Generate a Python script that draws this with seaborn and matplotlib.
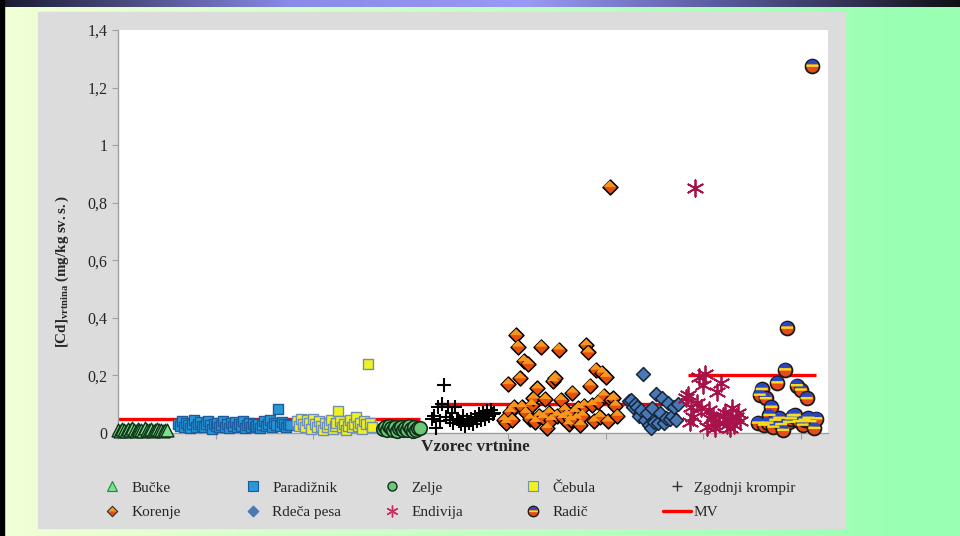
import numpy as np
import pandas as pd
import seaborn as sns
import matplotlib
matplotlib.use("Agg")
import matplotlib.pyplot as plt
from matplotlib.path import Path
from matplotlib.lines import Line2D
from matplotlib.patches import Rectangle
from matplotlib.legend_handler import HandlerTuple
from matplotlib.ticker import FuncFormatter, MultipleLocator

# Cd content per vegetable sample (mg/kg dry matter)
bucke = [0.012, 0.008, 0.015, 0.01, 0.006, 0.013, 0.009, 0.018, 0.011, 0.007, 0.014, 0.01, 0.012,
         0.008, 0.016, 0.009, 0.011, 0.013, 0.007, 0.01, 0.015, 0.009, 0.012, 0.008, 0.011, 0.01]
paradiznik = [0.03, 0.025, 0.04, 0.02, 0.035, 0.028, 0.018, 0.032, 0.045, 0.022, 0.03, 0.038, 0.025,
              0.02, 0.033, 0.042, 0.028, 0.015, 0.03, 0.024, 0.036, 0.02, 0.028, 0.04, 0.022, 0.03,
              0.018, 0.034, 0.026, 0.038, 0.02, 0.03, 0.025, 0.042, 0.018, 0.028, 0.035, 0.022, 0.03,
              0.02, 0.026, 0.033, 0.017, 0.028, 0.04, 0.024, 0.03, 0.046, 0.02, 0.035, 0.028, 0.083,
              0.025, 0.038, 0.03, 0.022, 0.033, 0.028]
cebula = [0.04, 0.025, 0.05, 0.03, 0.02, 0.045, 0.035, 0.015, 0.05, 0.03, 0.02, 0.04, 0.025, 0.012,
          0.035, 0.02, 0.03, 0.045, 0.015, 0.025, 0.035, 0.076, 0.04, 0.02, 0.03, 0.01, 0.025, 0.045,
          0.02, 0.03, 0.055, 0.025, 0.035, 0.015, 0.04, 0.03, 0.24, 0.035, 0.02]
zelje = [0.015, 0.02, 0.01, 0.025, 0.018, 0.012, 0.022, 0.008, 0.016, 0.02, 0.012, 0.018, 0.01,
         0.024, 0.015, 0.008, 0.02, 0.012, 0.016, 0.018]
krompir = [0.05, 0.06, 0.017, 0.09, 0.04, 0.1, 0.167, 0.055, 0.09, 0.045, 0.07, 0.035, 0.09, 0.05,
           0.04, 0.03, 0.06, 0.025, 0.045, 0.035, 0.05, 0.03, 0.055, 0.04, 0.065, 0.045, 0.07, 0.05,
           0.075, 0.06, 0.08, 0.065, 0.07]
korenje = [0.045, 0.035, 0.17, 0.073, 0.045, 0.09, 0.34, 0.30, 0.19, 0.09, 0.25, 0.07, 0.24, 0.05,
           0.097, 0.12, 0.038, 0.155, 0.06, 0.30, 0.052, 0.118, 0.017, 0.07, 0.045, 0.18, 0.19, 0.06,
           0.29, 0.115, 0.052, 0.08, 0.062, 0.03, 0.045, 0.14, 0.073, 0.05, 0.087, 0.028, 0.06, 0.095,
           0.305, 0.28, 0.165, 0.097, 0.04, 0.22, 0.108, 0.056, 0.21, 0.13, 0.195, 0.04, 0.855, 0.115,
           0.12, 0.095, 0.06]
rdeca_pesa = [0.11, 0.115, 0.09, 0.1, 0.09, 0.06, 0.08, 0.205, 0.045, 0.07, 0.028, 0.017, 0.087,
              0.038, 0.135, 0.035, 0.07, 0.12, 0.035, 0.052, 0.104, 0.049, 0.06, 0.09, 0.045, 0.1]
endivija = [0.12, 0.132, 0.038, 0.09, 0.056, 0.85, 0.104, 0.195, 0.087, 0.167, 0.205, 0.021, 0.08,
            0.05, 0.056, 0.017, 0.142, 0.035, 0.173, 0.06, 0.07, 0.028, 0.045, 0.017, 0.087, 0.028,
            0.056, 0.07, 0.04]
radic = [0.035, 0.132, 0.152, 0.028, 0.12, 0.035, 0.062, 0.09, 0.021, 0.045, 0.175, 0.052, 0.03,
         0.01, 0.22, 0.365, 0.038, 0.05, 0.06, 0.062, 0.165, 0.04, 0.15, 0.028, 0.045, 0.12, 0.052,
         0.04, 1.275, 0.017, 0.05]

# number of the first sample of each vegetable
group_start = [0, 31, 92, 136, 161, 198, 262, 291, 328]

# limit values (MV) and the sample ranges they apply to
mv_level = [0.05, 0.1, 0.2]
mv_from = [0, 163, 292]
mv_to = [155, 280, 358]

labels = ["Bučke", "Paradižnik", "Čebula", "Zelje", "Zgodnji krompir",
          "Korenje", "Rdeča pesa", "Endivija", "Radič"]
values = [bucke, paradiznik, cebula, zelje, krompir, korenje, rdeca_pesa, endivija, radic]

frames = []
for name, start, vals in zip(labels, group_start, values):
    frames.append(pd.DataFrame({"sample": start + np.arange(len(vals)), "cd": vals, "vrtnina": name}))
df = pd.concat(frames, ignore_index=True)

sns.set_style("ticks")
plt.rcParams["font.family"] = ["Liberation Serif", "DejaVu Serif"]
plt.rcParams["mathtext.fontset"] = "custom"
plt.rcParams["mathtext.rm"] = "Liberation Serif"
plt.rcParams["mathtext.bf"] = "Liberation Serif:bold"
plt.rcParams["mathtext.it"] = "Liberation Serif:italic"


def circle_slice(lo, hi, n=24):
    a, b = np.arcsin(lo), np.arcsin(hi)
    ang = np.concatenate([np.linspace(a, b, n), np.linspace(np.pi - b, np.pi - a, n)])
    verts = np.column_stack([np.cos(ang), np.sin(ang)])
    return Path(np.vstack([verts, verts[:1]]), closed=True)


cap_top = circle_slice(0.25, 1.0)
band_mid = circle_slice(-0.15, 0.25)
diamond = Path([(0, 1), (1, 0), (0, -1), (-1, 0), (0, 1)], closed=True)
diamond_top = Path([(-1, 0), (0, 1), (1, 0), (-1, 0)], closed=True)
asterisk = (6, 2, 0)

W, H = 960, 536
fig = plt.figure(figsize=(W / 100, H / 100), dpi=100)

# slide background
bg = fig.add_axes([0, 0, 1, 1], zorder=-10)
t = np.clip(np.linspace(0, 1, W) * 1.05, 0, 1)
c0 = np.array([0.95, 1.0, 0.84])
c1 = np.array([0.60, 1.0, 0.70])
row = c0[None, :] * (1 - t[:, None]) + c1[None, :] * t[:, None]
grad = np.repeat(row[None, :, :], H, axis=0)
bg.imshow(grad, aspect="auto", extent=[0, W, H, 0])
bar_cmap = matplotlib.colors.LinearSegmentedColormap.from_list(
    "bar", [(0, "#1a1a30"), (0.3, "#8a8ae8"), (0.55, "#9a9af5"), (0.75, "#5a5aa0"), (1, "#101015")])
bg.imshow(np.linspace(0, 1, W)[None, :], cmap=bar_cmap, aspect="auto", extent=[0, W, 7, 0])
bg.add_patch(Rectangle((0, 0), 4, H, color="black"))
bg.add_patch(Rectangle((38, 12), 807, 516, color="#dcdcdc"))
bg.set_xlim(0, W)
bg.set_ylim(H, 0)
bg.axis("off")

ax = fig.add_axes([118 / W, 103 / H, 710 / W, 403 / H])
ax.set_facecolor("white")

for lvl, a, b in zip(mv_level, mv_from, mv_to):
    ax.plot([a, b], [lvl, lvl], color="#ff0000", lw=2.4, zorder=2, solid_capstyle="butt")


def draw(name, **kw):
    d = df[df["vrtnina"] == name]
    sns.scatterplot(data=d, x="sample", y="cd", ax=ax, clip_on=False, legend=False, **kw)


draw("Bučke", marker="^", s=85, color="#7fe08f", edgecolor="#0f3518", linewidth=1, zorder=3)
draw("Paradižnik", marker="s", s=52, color="#2898d8", edgecolor="#1c5c9c", linewidth=1, zorder=3)
draw("Čebula", marker="s", s=52, color="#f2f01e", edgecolor="#6e90b8", linewidth=1, zorder=3)
draw("Zelje", marker="o", s=95, color="#6cc878", edgecolor="#10301a", linewidth=1.2, zorder=3)
draw("Zgodnji krompir", marker="+", s=100, color="black", linewidth=1.5, zorder=3)
draw("Korenje", marker=diamond, s=115, color="#e6500c", edgecolor="black", linewidth=1.1, zorder=3)
draw("Korenje", marker=diamond_top, s=80, color="#f8961e", edgecolor="none", linewidth=0, zorder=4)
draw("Rdeča pesa", marker=diamond, s=100, color="#4a78b4", edgecolor="#15253a", linewidth=1.1, zorder=3)
draw("Endivija", marker=asterisk, s=140, color="#a8124a", linewidth=1.3, zorder=3)
draw("Radič", marker="o", s=100, color="#e84a18", edgecolor="#1a1a1a", linewidth=1.3, zorder=5)
draw("Radič", marker=cap_top, s=76, color="#2846c8", edgecolor="none", linewidth=0, zorder=6)
draw("Radič", marker=band_mid, s=76, color="#f5dc1e", edgecolor="none", linewidth=0, zorder=6)

ax.set_xlim(0, 364)
ax.set_ylim(0, 1.4)
ax.xaxis.set_major_locator(MultipleLocator(50))
ax.yaxis.set_major_locator(MultipleLocator(0.2))
ax.yaxis.set_major_formatter(FuncFormatter(lambda v, p: ("%g" % v).replace(".", ",")))
ax.tick_params(axis="x", direction="out", length=4, color="#a0a0a0", labelbottom=False)
ax.tick_params(axis="y", direction="out", length=4.5, color="#a0a0a0", labelsize=11.5, pad=3)
for side in ["top", "right"]:
    ax.spines[side].set_visible(False)
for side in ["left", "bottom"]:
    ax.spines[side].set_color("#a0a0a0")
    ax.spines[side].set_linewidth(1)

ax.set_xlabel("Vzorec vrtnine", fontsize=12.3, fontweight="bold")
ax.xaxis.set_label_coords(0.503, -0.016)
ax.set_ylabel(r"$\mathbf{[Cd]_{vrtnina}\ (mg/kg\ sv.s.)}$", fontsize=10.8)
ax.yaxis.set_label_coords(-0.066, 0.40)

# legend, one block per column
h = {
    "Bučke": Line2D([], [], ls="", marker="^", ms=6.5, mfc="#7fe08f", mec="#1a8a40", mew=0.8),
    "Paradižnik": Line2D([], [], ls="", marker="s", ms=6.5, mfc="#2898d8", mec="#1c5c9c", mew=0.8),
    "Zelje": Line2D([], [], ls="", marker="o", ms=6.5, mfc="#6cc878", mec="#10301a", mew=1),
    "Čebula": Line2D([], [], ls="", marker="s", ms=7, mfc="#f2f01e", mec="#6e90b8", mew=0.8),
    "Zgodnji krompir": Line2D([], [], ls="", marker="+", ms=7.5, color="#333333", mew=1),
    "Korenje": (Line2D([], [], ls="", marker=diamond, ms=7.5, mfc="#e6500c", mec="#333333", mew=0.8),
                Line2D([], [], ls="", marker=diamond_top, ms=6, mfc="#f8961e", mec="none")),
    "Rdeča pesa": Line2D([], [], ls="", marker=diamond, ms=7.5, mfc="#4a78b4", mec="#4a78b4"),
    "Endivija": Line2D([], [], ls="", marker=asterisk, ms=8.5, color="#d02a6a", mew=1),
    "Radič": (Line2D([], [], ls="", marker="o", ms=7.5, mfc="#e84a18", mec="#1a1a1a", mew=1),
              Line2D([], [], ls="", marker=cap_top, ms=6.3, mfc="#2846c8", mec="none"),
              Line2D([], [], ls="", marker=band_mid, ms=6.3, mfc="#f5dc1e", mec="none")),
    "MV": Line2D([], [], color="#ff0000", lw=2.4),
}
columns = [["Bučke", "Korenje"], ["Paradižnik", "Rdeča pesa"], ["Zelje", "Endivija"],
           ["Čebula", "Radič"], ["Zgodnji krompir", "MV"]]
col_left = [103, 244, 383, 524, 663]
for i, (names, left) in enumerate(zip(columns, col_left)):
    last = i == len(columns) - 1
    fig.legend([h[n] for n in names], names, loc="upper left",
               bbox_to_anchor=(left / W, (H - 481) / H), frameon=False, fontsize=11,
               borderpad=0, borderaxespad=0, labelspacing=0.72,
               handlelength=1.8 if last else 1.2, handletextpad=0.2 if last else 0.65,
               handler_map={tuple: HandlerTuple(ndivide=1, pad=0)})

fig.savefig("out.png", dpi=100)
